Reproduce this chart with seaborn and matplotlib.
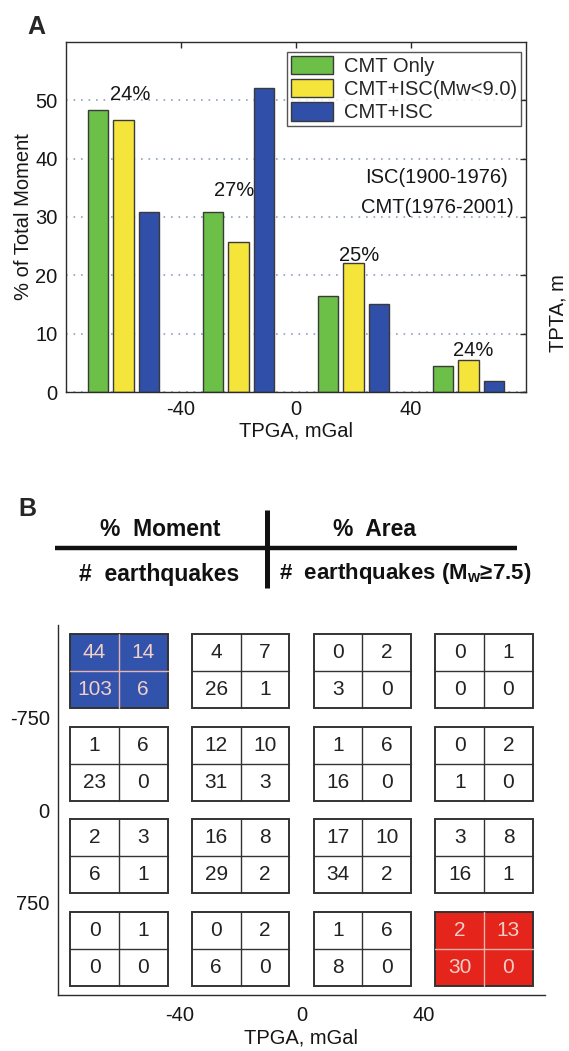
import numpy as np
import pandas as pd
import matplotlib
matplotlib.use("Agg")
import matplotlib.pyplot as plt
from matplotlib.patches import Rectangle, Patch
import seaborn as sns

# ---------------- Panel A: share of total moment per TPGA bin ----------------
tpga_bins = [-60, -20, 20, 60]
series_names = ["CMT Only", "CMT+ISC(Mw<9.0)", "CMT+ISC"]
cmt_only = [48.4, 30.8, 16.4, 4.5]
cmt_isc_lt9 = [46.7, 25.8, 22.1, 5.5]
cmt_isc = [30.9, 52.2, 15.1, 1.9]
area_pct_labels = ["24%", "27%", "25%", "24%"]

# ---------------- Panel B: 4x4 TPGA / TPTA summary table ----------------
tpta_bins = [-1125, -375, 375, 1125]
moment_pct = [[44, 4, 0, 0], [1, 12, 1, 0], [2, 16, 17, 3], [0, 0, 1, 2]]
area_pct = [[14, 7, 2, 1], [6, 10, 6, 2], [3, 8, 10, 8], [1, 2, 6, 13]]
n_quakes = [[103, 26, 3, 0], [23, 31, 16, 1], [6, 29, 34, 16], [0, 6, 8, 30]]
n_quakes_big = [[6, 1, 0, 0], [0, 3, 0, 0], [1, 2, 2, 1], [0, 0, 0, 0]]
highlight = {(0, 0): "#3253ab", (3, 3): "#e5241c"}

# ---------------- style ----------------
sns.set_style("white")
plt.rcParams["font.family"] = ["Liberation Sans", "DejaVu Sans"]
plt.rcParams["mathtext.fontset"] = "custom"
plt.rcParams["mathtext.rm"] = "Liberation Sans"
plt.rcParams["mathtext.bf"] = "Liberation Sans:bold"
INK = "#2b2b2b"
TXT = "#161616"
FS = 14.5

W, H = 569, 1051
fig = plt.figure(figsize=(W / 100, H / 100), dpi=100)


def fig_rect(x0, y0, x1, y1):
    return [x0 / W, 1 - y1 / H, (x1 - x0) / W, (y1 - y0) / H]


# ---------------- Panel A ----------------
axA = fig.add_axes(fig_rect(66, 42, 526, 392))
df = pd.DataFrame({
    "tpga": tpga_bins * 3,
    "series": np.repeat(series_names, len(tpga_bins)),
    "pct": cmt_only + cmt_isc_lt9 + cmt_isc,
})
palette = {"CMT Only": "#6cbf47", "CMT+ISC(Mw<9.0)": "#f5e43a", "CMT+ISC": "#2f4fa8"}
sns.barplot(data=df, x="tpga", y="pct", hue="series", hue_order=series_names,
            native_scale=True, width=0.665, gap=0.18, palette=palette, saturation=1,
            edgecolor="#3a3a3a", linewidth=1.0, errorbar=None, legend=False, ax=axA)

axA.set_xlim(-80, 80)
axA.set_ylim(0, 60)
axA.set_xticks([-40, 0, 40])
axA.set_xticklabels(["-40", "0", "40"])
axA.set_yticks([0, 10, 20, 30, 40, 50])
axA.tick_params(axis="both", direction="in", length=4, width=1, color=INK,
                labelsize=FS, top=True, right=True, labelcolor=TXT)
axA.tick_params(axis="x", pad=6)
axA.tick_params(axis="y", pad=6)
for s in axA.spines.values():
    s.set_color(INK)
    s.set_linewidth(1.0)
axA.set_axisbelow(True)
axA.yaxis.grid(True, linestyle=(0, (1, 3.5)), color="#8ea2b8", linewidth=1.2)
axA.xaxis.grid(False)

axA.set_xlabel("TPGA, mGal", fontsize=FS, color=TXT)
axA.xaxis.set_label_coords(0.5, -0.085)
axA.xaxis.label.set_va("top")
axA.set_ylabel("% of Total Moment", fontsize=FS, color=TXT)
axA.yaxis.set_label_coords(-0.072, 0.5)

# area share labels above each group of bars
label_x = [-57.6, -21.5, 21.9, 61.5]
label_y = [51.0, 34.5, 23.4, 7.2]
for lx, ly, txt in zip(label_x, label_y, area_pct_labels):
    axA.text(lx, ly, txt, ha="center", va="center", fontsize=FS, color=TXT)

axA.text(49, 36.7, "ISC(1900-1976)", ha="center", va="center", fontsize=FS, color=TXT)
axA.text(49, 31.6, "CMT(1976-2001)", ha="center", va="center", fontsize=FS, color=TXT)

handles = [Patch(facecolor=palette[n], edgecolor="#3a3a3a", linewidth=1.0) for n in series_names]
leg = axA.legend(handles, series_names, loc="upper right", bbox_to_anchor=(0.99, 0.972),
                 fontsize=FS, frameon=True, fancybox=False, edgecolor=INK,
                 handlelength=2.1, handleheight=1.0, labelspacing=0.17,
                 handletextpad=0.55, borderpad=0.2, borderaxespad=0.0)
leg.get_frame().set_linewidth(1.0)

fig.text(27 / W, 1 - 15 / H, "A", fontsize=18, fontweight="bold", ha="left", va="top")
fig.text(558 / W, 1 - 313 / H, "TPTA, m", fontsize=FS, rotation=90,
         ha="center", va="center", color=TXT)

# ---------------- Panel B header ----------------
axH = fig.add_axes([0, 1 - 600 / H, 1, 120 / H])
axH.set_xlim(0, W)
axH.set_ylim(600, 480)
axH.axis("off")
axH.plot([55, 517], [548, 548], color="#111", lw=3.2, solid_capstyle="butt")
axH.plot([267, 267], [510, 588], color="#111", lw=3.6, solid_capstyle="butt")
hdr = dict(fontsize=16.5, fontweight="bold", ha="center", va="center", color="#111")
axH.text(160, 530, "%  Moment", **hdr)
axH.text(375, 530, "%  Area", **hdr)
axH.text(159, 574, "#  earthquakes", **hdr)
axH.text(405, 574, r"#  earthquakes (M$_{\mathbf{w}}$≥7.5)",
         **{**hdr, "fontsize": 16})
fig.text(18 / W, 1 - 497 / H, "B", fontsize=18, fontweight="bold", ha="left", va="top")

# ---------------- Panel B grid of cells ----------------
axB = fig.add_axes(fig_rect(58, 625, 545, 995))
axB.set_xlim(-80, 80)
axB.set_ylim(1500, -1500)
half_w, half_h = 16, 300
for i, ty in enumerate(tpta_bins):
    for j, gx in enumerate(tpga_bins):
        face = highlight.get((i, j), "white")
        colored = (i, j) in highlight
        line_c = "#e8b4ac" if colored else "#333333"
        txt_c = "#f2cfc8" if colored else "#222222"
        axB.add_patch(Rectangle((gx - half_w, ty - half_h), 2 * half_w, 2 * half_h,
                                facecolor=face, edgecolor="#333333", linewidth=1.4, zorder=2))
        axB.plot([gx, gx], [ty - half_h, ty + half_h], color=line_c, lw=1.0, zorder=3)
        axB.plot([gx - half_w, gx + half_w], [ty, ty], color=line_c, lw=1.0, zorder=3)
        vals = [moment_pct[i][j], area_pct[i][j], n_quakes[i][j], n_quakes_big[i][j]]
        offs = [(-1, -1), (1, -1), (-1, 1), (1, 1)]
        for v, (ox, oy) in zip(vals, offs):
            axB.text(gx + ox * half_w / 2, ty + oy * half_h / 2, str(v),
                     ha="center", va="center", fontsize=15, color=txt_c, zorder=4)

axB.set_xticks([-40, 0, 40])
axB.set_xticklabels(["-40", "0", "40"])
axB.set_yticks([-750, 0, 750])
axB.set_yticklabels(["-750", "0", "750"])
axB.tick_params(axis="both", direction="in", length=4, width=1, color=INK,
                labelsize=FS, labelcolor=TXT)
axB.tick_params(axis="x", pad=8)
axB.tick_params(axis="y", pad=6)
for side in ["top", "right"]:
    axB.spines[side].set_visible(False)
for side in ["left", "bottom"]:
    axB.spines[side].set_color(INK)
    axB.spines[side].set_linewidth(1.0)
axB.grid(False)
axB.set_xlabel("TPGA, mGal", fontsize=FS, color=TXT)
axB.xaxis.set_label_coords(0.5, -0.09)
axB.xaxis.label.set_va("top")

fig.savefig("out.png", dpi=100, facecolor="white")
